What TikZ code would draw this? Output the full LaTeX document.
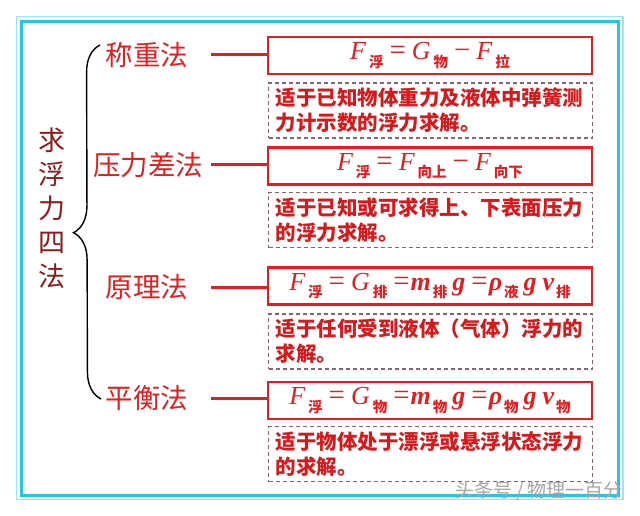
\documentclass[tikz,border=0pt]{standalone}
\usepackage{fontspec}
\setmainfont{Liberation Serif}
\newfontfamily\cjk{Noto Sans CJK SC}
\newfontfamily\tnr{Liberation Serif}
\usetikzlibrary{decorations.pathreplacing}
\definecolor{fred}{HTML}{E41E20}
\definecolor{dred}{HTML}{D7191C}
\definecolor{ndash}{HTML}{8C6464}
\definecolor{maroon}{HTML}{8E1B1B}
\definecolor{cyanA}{HTML}{22C7E5}
\definecolor{cyanB}{HTML}{9AE6F3}
\newcommand\fsub[2]{{\itshape #1}\kern3pt\raisebox{-0.28em}{\cjk\bfseries\fontsize{14.5}{14.5}\selectfont #2}}
\newcommand\bsub[2]{{\bfseries\itshape #1}\kern2pt\raisebox{-0.28em}{\cjk\bfseries\fontsize{14.5}{14.5}\selectfont #2}}
\newcommand\bg{{\bfseries\itshape g}}
\newcommand\feq{\hspace{6pt}{\fontsize{29}{29}\selectfont =}\hspace{6pt}}
\newcommand\feqb{\hspace{6pt}{\fontsize{29}{29}\selectfont =}\hspace{1pt}}
\newcommand\fminus{\hspace{6pt}{\fontsize{29}{29}\selectfont \char"2212}\hspace{6pt}}

\begin{document}
\begin{tikzpicture}[x=1pt, y=-1pt, every node/.style={inner sep=0pt},
	method/.style={text=fred, font=\cjk\fontsize{27.5}{30}\selectfont},
	title/.style={text=maroon, align=center, font=\cjk\fontsize{27}{34}\selectfont},
	formula/.style={draw=fred, line width=2.5pt, fill=white, minimum width=324pt, minimum height=37pt, text=fred, font=\tnr\fontsize{26}{28}\selectfont},
	note/.style={draw=ndash, line width=1.3pt, dash pattern=on 4pt off 3pt, text width=310pt, inner xsep=7pt, minimum height=55pt, align=left, text=dred, font=\cjk\bfseries\fontsize{20.5}{25}\selectfont},
	link/.style={draw=fred, line width=3pt},
	wmark/.style={text=gray!70, font=\cjk\fontsize{19}{20}\selectfont}]
	\useasboundingbox[fill=white] (0,0) rectangle (640,516);
	\draw[cyanB, line width=1.2pt] (16.5,16.5) rectangle (623,499.5);
	\draw[cyanA, line width=3pt] (21.5,21.5) rectangle (618.5,495);

	\node[title] (t) at (52,208) {求\\浮\\力\\四\\法};
	\draw[line width=1.4pt, decorate, decoration={brace, amplitude=27pt, aspect=0.47}] (101,399) -- (100,45);

	\node[method] (m1) at (147,55) {称重法};
	\node[method] (m2) at (148,165) {压力差法};
	\node[method] (m3) at (147,287) {原理法};
	\node[method] (m4) at (147,398) {平衡法};

	\node[formula] (f1) at (430,55.5) {\fsub{F}{浮}\feq\fsub{G}{物}\fminus\fsub{F}{拉}};
	\node[formula] (f2) at (430,166) {\fsub{F}{浮}\feq\fsub{F}{向上}\fminus\fsub{F}{向下}};
	\node[formula] (f3) at (430,286) {\fsub{F}{浮}\feq\fsub{G}{排}\feqb\bsub{m}{排}\kern5pt\bg\feqb\bsub{ρ}{液}\kern5pt\bg\kern6pt\bsub{v}{排}};
	\node[formula] (f4) at (430,400.5) {\fsub{F}{浮}\feq\fsub{G}{物}\feqb\bsub{m}{物}\kern5pt\bg\feqb\bsub{ρ}{物}\kern5pt\bg\kern6pt\bsub{v}{物}};

	\node[note] (n1) at (430.5,110.5) {适于已知物体重力及液体中弹簧测\\力计示数的浮力求解。};
	\node[note] (n2) at (430.5,220) {适于已知或可求得上、下表面压力\\的浮力求解。};
	\node[note] (n3) at (430.5,341.5) {适于任何受到液体（气体）浮力的\\求解。};
	\node[note] (n4) at (430.5,454) {适于物体处于漂浮或悬浮状态浮力\\的求解。};

	\coordinate (c1) at (211,55);
	\coordinate (c2) at (211,165);
	\coordinate (c3) at (211,287);
	\coordinate (c4) at (211,398);
	\draw[link] (c1) -- (c1 -| f1.west);
	\draw[link] (c2) -- (c2 -| f2.west);
	\draw[link] (c3) -- (c3 -| f3.west);
	\draw[link] (c4) -- (c4 -| f4.west);

	\node[wmark] (wm) at (539,491) {头条号 / 物理一百分};
\end{tikzpicture}
\end{document}
